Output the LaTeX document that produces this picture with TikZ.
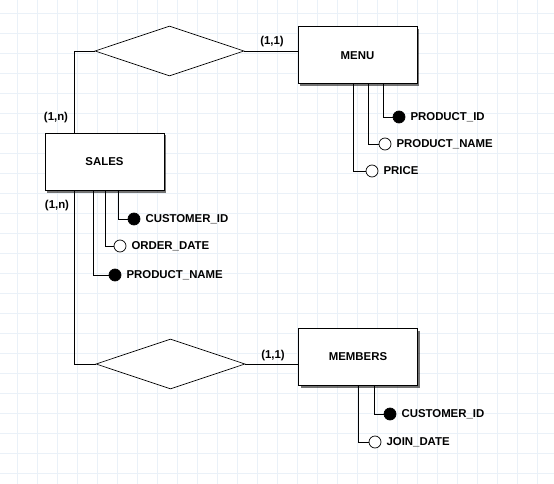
\documentclass[tikz,border=0pt]{standalone}
\usepackage{fontspec}
\setmainfont{Liberation Sans}
\usetikzlibrary{positioning,shapes.geometric,shadows}
\definecolor{gridblue}{RGB}{234,241,248}
\tikzset{
  gridline/.style={gridblue, line width=0.9pt},
  link/.style={line width=0.8pt},
  entitybox/.style={draw, line width=1pt, fill=white, minimum width=119pt, minimum height=57pt, inner sep=0pt,
    drop shadow={shadow xshift=2pt, shadow yshift=-2pt, fill=black, opacity=0.55}},
  relnode/.style={draw, diamond, line width=0.7pt, fill=white, minimum width=149pt, minimum height=50pt, inner sep=0pt},
  keyattr/.style={circle, draw, line width=0.7pt, fill=black, minimum size=12pt, inner sep=0pt},
  plainattr/.style={circle, draw, line width=0.7pt, fill=white, minimum size=12pt, inner sep=0pt},
  attrlabel/.style={anchor=west, inner sep=0pt, xshift=5pt},
  cardlabel/.style={inner sep=0pt}
}

\begin{document}
\begin{tikzpicture}[x=1pt, y=-1pt, every node/.style={font=\fontsize{11.4}{13}\selectfont\bfseries}]
  \useasboundingbox (0,0) rectangle (554,484);
  \fill[white] (0,0) rectangle (554,484);
  % background grid
  \foreach \gx in {17,37,...,553} \draw[gridline] (\gx,0) -- (\gx,484);
  \foreach \gy in {13,33,...,473} \draw[gridline] (0,\gy) -- (554,\gy);

  % entities and relationships
  \node[relnode] (orders) at (169.5,51) {};
  \node[entitybox] (menu) at (357.5,55.5) {MENU};
  \node[entitybox] (sales) at (104.5,162) {SALES};
  \node[relnode] (joins) at (170.5,364) {};
  \node[entitybox] (members) at (358,357) {MEMBERS};

  \draw[link] (orders.west) -| ([xshift=-30.5pt]sales.north);
  \draw[link] (orders.east) -- (orders.east -| menu.west);
  \draw[link] ([xshift=-30.5pt]sales.south) |- (joins.west);
  \draw[link] (joins.east) -- (joins.east -| members.west);

  % cardinalities
  \node[cardlabel] (cardmenu) at (272,42) {(1,1)};
  \node[cardlabel] (cardsalestop) at (56,118) {(1,n)};
  \node[cardlabel] (cardsalesbot) at (57,206) {(1,n)};
  \node[cardlabel] (cardmembers) at (273,356) {(1,1)};

  % MENU attributes
  \node[keyattr] (menupid) at (399,117) {};
  \node[attrlabel] (menupidtext) at (menupid.east) {PRODUCT\_ID};
  \node[plainattr] (menupname) at (385,144) {};
  \node[attrlabel] (menupnametext) at (menupname.east) {PRODUCT\_NAME};
  \node[plainattr] (menuprice) at (372,171) {};
  \node[attrlabel] (menupricetext) at (menuprice.east) {PRICE};
  \draw[link] ([xshift=25.5pt]menu.south) |- (menupid.west);
  \draw[link] ([xshift=10.5pt]menu.south) |- (menupname.west);
  \draw[link] ([xshift=-4.5pt]menu.south) |- (menuprice.west);

  % SALES attributes
  \node[keyattr] (salescid) at (134,219) {};
  \node[attrlabel] (salescidtext) at (salescid.east) {CUSTOMER\_ID};
  \node[plainattr] (salesdate) at (120,246) {};
  \node[attrlabel] (salesdatetext) at (salesdate.east) {ORDER\_DATE};
  \node[keyattr] (salespname) at (115,275) {};
  \node[attrlabel] (salespnametext) at (salespname.east) {PRODUCT\_NAME};
  \draw[link] ([xshift=13.5pt]sales.south) |- (salescid.west);
  \draw[link] ([xshift=1pt]sales.south) |- (salesdate.west);
  \draw[link] ([xshift=-11.5pt]sales.south) |- (salespname.west);

  % MEMBERS attributes
  \node[keyattr] (memcid) at (390,414) {};
  \node[attrlabel] (memcidtext) at (memcid.east) {CUSTOMER\_ID};
  \node[plainattr] (memjoin) at (375,442) {};
  \node[attrlabel] (memjointext) at (memjoin.east) {JOIN\_DATE};
  \draw[link] ([xshift=16pt]members.south) |- (memcid.west);
  \draw[link] (members.south) |- (memjoin.west);
\end{tikzpicture}
\end{document}
